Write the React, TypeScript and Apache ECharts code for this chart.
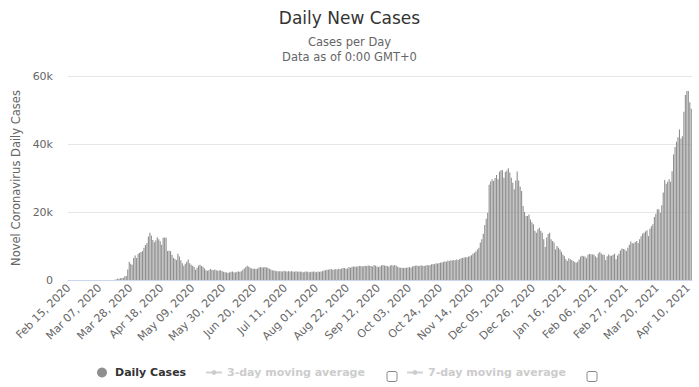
import React, { useEffect, useRef } from "react";
import * as echarts from "echarts";

const MONTH_NAMES = ["Jan", "Feb", "Mar", "Apr", "May", "Jun", "Jul", "Aug", "Sep", "Oct", "Nov", "Dec"];
const FIRST_DAY_UTC = Date.UTC(2020, 1, 15);

// Daily new cases, one value per day from Feb 15, 2020
const febMar2020 = [
  0, 0, 0, 0, 0, 0, 0, 0, 0, 0, 0, 0, 0, 0, 0, 0, 0, 0, 0, 0, 0, 0, 0, 0, 0,
  1, 0, 4, 1, 12, 29, 47,
  150, 350, 400, 550, 600, 650, 1100, 1200,
];
const firstWave = [
  3100, 5400, 4800, 4500, 6500, 7200, 6500, 7700, 8000, 8200, 8500, 9500, 10300, 10900, 12800, 13900,
  13100, 11800, 11100, 11600, 12600, 12000, 11400, 10400, 12400, 12500, 12400, 8500, 8600, 8500, 7400,
  6500, 6200, 5900, 7700, 6900, 5800, 4900, 4200, 4800, 5400, 6000, 4900, 4500, 4200, 3800, 3000,
];
const summer2020 = [
  3600, 4300, 4500, 4100, 3900, 3400, 2900, 2700, 2900, 3200, 3000, 2900, 3100, 2900, 2700, 2800, 2900,
  2600, 2400, 2300, 2200, 2100, 2200, 2400, 2500, 2300, 2200, 2400, 2500, 2400, 2600, 3000, 3400, 3800,
  4200, 3900, 3600, 3400, 3300, 3300, 3200, 3400, 3700, 3800, 3700, 3700, 3800, 3700, 3600, 3300, 3100,
  2900, 2800, 2700, 2600, 2600, 2600,
];
const lateSummer2020 = [
  2600, 2500, 2700, 2600, 2500, 2600, 2500, 2600, 2500, 2400, 2600, 2500, 2400, 2500,
  2400, 2300, 2400, 2500, 2400, 2300, 2400, 2400, 2500, 2400, 2300, 2500, 2400, 2500, 2600,
  2800, 2900, 3000, 3100, 3100, 3200, 3000, 3100, 3200, 3100, 3300, 3200, 3400, 3500,
];
const autumn2020 = [
  3500, 3300, 3400, 3800, 3600, 3900, 4000, 3900, 4000, 4000, 4100, 4100, 4000, 4100, 4200, 4100, 4300, 4200, 4100, 4000,
  4400, 4200, 4000, 3800, 4000, 4300, 4400, 4300, 4200, 4100, 3900, 4300, 4400, 4200, 4400, 4200,
  3900, 3700, 3600, 3600, 3500, 3600, 3600, 3700, 3800, 3600,
  4000, 4100, 4200, 4300, 4100, 4200, 4300, 4200, 4100, 4300, 4400, 4300, 4400,
  4600, 4700, 4600, 4900, 4800, 5000, 5100, 5200, 5300,
  5500, 5400, 5700, 5600, 5800, 5700, 5900, 5800, 6000, 5900,
  6200, 6400, 6500, 6600, 6700, 6700, 6900, 7000,
];
const secondWave = [
  7300, 7700, 8000, 8400, 9000, 9500, 11000, 12000, 13600, 16200, 18000, 19800,
  28000, 29000, 29600, 29100, 30000, 30900, 29600, 31900, 32300, 32300, 30100, 31800, 32200, 32900,
  31600, 30100, 28600, 26700, 29300, 31900, 29300, 27500, 26200, 21800, 20000, 18800, 18800, 19300,
  17800, 17000, 16400, 14500, 13900, 14900, 15400, 14500, 13900, 12000, 9700, 12500, 13500, 13900,
  12000, 11500, 11000, 9000, 10000, 9500,
];
const winter2021 = [
  9000, 8300, 7500, 7000, 6100, 5600, 6400, 6100, 5900, 5600, 5300, 5100, 5400, 6000, 6900, 7100, 7000,
  6900, 6400, 7400, 7700, 7600, 7500, 7500, 7000, 6600, 7800, 8200, 7800, 7400, 7400, 5900, 7000, 7500,
  7100, 7100, 7400, 7700, 6100, 7200, 7700, 8700, 9300, 9100, 9000, 8500, 9500, 10400, 11300, 10800,
  10800, 11200, 11500, 10900, 12000, 12900, 13600, 13900, 14300, 14600, 12900, 15100, 15800, 16400,
  18500, 19500, 20800, 20800,
];
const spring2021 = [
  19800, 22000, 25700, 29400, 28300, 28900, 29600, 28900, 32000, 36900, 39100, 40700, 42000, 44300,
  41600, 42300, 49500, 54400, 55600, 55600, 52300, 50400,
];

const dailyCases = [
  ...febMar2020, ...firstWave, ...summer2020, ...lateSummer2020,
  ...autumn2020, ...secondWave, ...winter2021, ...spring2021,
];

const categories = dailyCases.map((_, i) => {
  const d = new Date(FIRST_DAY_UTC + i * 86400000);
  return `${MONTH_NAMES[d.getUTCMonth()]} ${String(d.getUTCDate()).padStart(2, "0")}, ${d.getUTCFullYear()}`;
});

const yTickValues = [0, 20000, 40000, 60000];
const yTickLabels = ["0", "20k", "40k", "60k"];

const FONT = "DejaVu Sans";

export default function App() {
  const ref = useRef<HTMLDivElement>(null);
  useEffect(() => {
    document.body.style.margin = "0";
    if (!ref.current) return;
    const chart = echarts.init(ref.current, null, { renderer: "svg" });
    chart.setOption({
      animation: false,
      textStyle: { fontFamily: FONT },
      title: [
        { text: "Daily New Cases", left: "center", top: 9, padding: 0,
          textStyle: { fontSize: 17, fontWeight: "normal", color: "#333", fontFamily: FONT } },
        { text: "Cases per Day", left: "center", top: 36, padding: 0,
          textStyle: { fontSize: 11.5, fontWeight: "normal", color: "#666", fontFamily: FONT } },
        { text: "Data as of 0:00 GMT+0", left: "center", top: 51, padding: 0,
          textStyle: { fontSize: 11.5, fontWeight: "normal", color: "#666", fontFamily: FONT } },
      ],
      grid: { left: 68, right: 7, top: 76, bottom: 107, containLabel: false },
      legend: [
        { data: ["Daily Cases"], left: 97, top: 367, padding: 0, icon: "circle",
          itemWidth: 10, itemHeight: 10,
          textStyle: { fontSize: 11, fontWeight: "bold", color: "#333", fontFamily: FONT, padding: [0, 0, 0, 3] } },
        { data: ["3-day moving average"], left: 205, top: 367, padding: 0,
          itemWidth: 16, itemHeight: 6, inactiveColor: "#ccc",
          selected: { "3-day moving average": false },
          textStyle: { fontSize: 11, fontWeight: "bold", color: "#333", fontFamily: FONT } },
        { data: ["7-day moving average"], left: 406, top: 367, padding: 0,
          itemWidth: 16, itemHeight: 6, inactiveColor: "#ccc",
          selected: { "7-day moving average": false },
          textStyle: { fontSize: 11, fontWeight: "bold", color: "#333", fontFamily: FONT } },
      ],
      xAxis: {
        type: "category",
        data: categories,
        axisLine: { lineStyle: { color: "#ccd6eb" } },
        axisTick: { show: false },
        axisLabel: { interval: 20, rotate: 45, fontSize: 11, color: "#666", margin: 6, fontFamily: FONT },
      },
      yAxis: {
        type: "value",
        min: 0,
        max: 60000,
        interval: 20000,
        name: "Novel Coronavirus Daily Cases",
        nameLocation: "middle",
        nameGap: 41,
        nameTextStyle: { fontSize: 11.5, color: "#666", fontFamily: FONT },
        axisLabel: {
          fontSize: 11, color: "#666", margin: 15, fontFamily: FONT,
          formatter: (v: number) => yTickLabels[yTickValues.indexOf(v)] ?? String(v),
        },
        splitLine: { lineStyle: { color: "#e6e6e6" } },
      },
      series: [
        { name: "Daily Cases", type: "bar", data: dailyCases, barWidth: 1.1, itemStyle: { color: "#8f8f8f" } },
        { name: "3-day moving average", type: "line", data: [], symbol: "circle", itemStyle: { color: "#999" } },
        { name: "7-day moving average", type: "line", data: [], symbol: "circle", itemStyle: { color: "#999" } },
      ],
      graphic: [
        { type: "rect", shape: { x: 387, y: 371.5, width: 10, height: 10, r: 2 },
          style: { fill: "#fff", stroke: "#888", lineWidth: 1 } },
        { type: "rect", shape: { x: 587, y: 371.5, width: 10, height: 10, r: 2 },
          style: { fill: "#fff", stroke: "#888", lineWidth: 1 } },
      ],
    });
    return () => chart.dispose();
  }, []);
  return <div ref={ref} style={{ width: 699, height: 387 }} />;
}
